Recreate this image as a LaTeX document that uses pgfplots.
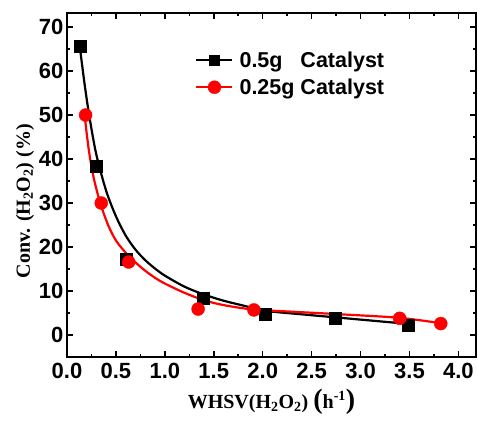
\documentclass[border=0pt]{standalone}
\usepackage{fontspec}
\setmainfont{Liberation Serif}
\setsansfont{Liberation Sans}
\usepackage{pgfplots}
\pgfplotsset{compat=1.18}
\newcommand{\bp}[1]{{\fontsize{28}{28}\selectfont #1}}

\begin{document}
\begin{tikzpicture}
\begin{axis}[
  scale only axis, width=409pt, height=344pt,
  xmin=0, xmax=4.18, ymin=-5, ymax=73.2,
  xtick={0,0.5,1,1.5,2,2.5,3,3.5,4},
  ytick={0,10,20,30,40,50,60,70},
  minor x tick num=1, minor y tick num=1,
  tick align=inside,
  major tick length=6pt, minor tick length=3.5pt,
  every tick/.style={black, line width=1.5pt},
  axis line style={line width=2pt},
  xticklabel style={yshift=-3pt, /pgf/number format/.cd, fixed, fixed zerofill, precision=1},
  /pgf/number format/assume math mode=true,
  tick label style={font=\fontsize{22}{22}\selectfont\sffamily\bfseries},
  xlabel={WHSV(H\textsubscript{2}O\textsubscript{2}) \bp{(}h\textsuperscript{-1}\bp{)}},
  ylabel={Conv. (H\textsubscript{2}O\textsubscript{2}) (\%)},
  xlabel shift=3pt, ylabel shift=-2pt,
  ylabel style={at={(ticklabel cs:0.453)}},
  label style={font=\fontsize{20}{20}\selectfont\bfseries},
  legend style={at={(0.306,0.90)}, anchor=north west, draw=none, fill=none,
    font=\fontsize{21.5}{23}\selectfont\sffamily\bfseries, row sep=6pt},
  legend cell align=left,
]
% fitted curves
\addplot[black, line width=2.2pt, smooth, forget plot] coordinates {
  (0.13,65.7) (0.18,57) (0.23,49.5) (0.3,41) (0.4,32.8) (0.5,27) (0.6,22.6)
  (0.7,19.4) (0.8,17) (0.9,15.1) (1.0,13.5) (1.2,11.0) (1.4,9.2) (1.6,7.8)
  (1.8,6.7) (2.03,5.5) (2.4,4.7) (2.75,4.0) (3.1,3.3) (3.5,2.5)
};
\addplot[black, only marks, mark=square*, mark size=6pt,
  legend image code/.code={\draw[black, line width=2.2pt] (0pt,0pt) -- (36pt,0pt);
    \draw[black, mark=square*, mark size=5pt] plot coordinates {(18pt,0pt)};}] coordinates {
  (0.13,65.7) (0.30,38.4) (0.61,17.3) (1.39,8.3) (2.03,4.8) (2.74,3.8) (3.49,2.3)
};
\addlegendentry{\hspace*{4pt}0.5g\phantom{2} Catalyst}

\addplot[red, line width=2.2pt, smooth, forget plot] coordinates {
  (0.18,50) (0.22,42.5) (0.27,36) (0.34,30) (0.42,25) (0.5,21.5) (0.6,18.7)
  (0.7,16.5) (0.8,14.6) (0.9,13.0) (1.0,11.7) (1.2,9.6) (1.4,7.9) (1.6,6.8)
  (1.9,5.8) (2.3,5.3) (2.8,4.7) (3.4,3.9) (3.83,2.65)
};
\addplot[red, only marks, mark=*, mark size=6.5pt,
  legend image code/.code={\draw[red, line width=2.2pt] (0pt,0pt) -- (36pt,0pt);
    \draw[red, mark=*, mark size=6.5pt] plot coordinates {(18pt,0pt)};}] coordinates {
  (0.19,50.0) (0.35,30.0) (0.63,16.6) (1.34,5.9) (1.91,5.7) (3.40,3.8) (3.82,2.6)
};
\addlegendentry{\hspace*{4pt}0.25g Catalyst}
\end{axis}
\pgfresetboundingbox
\path (current axis.south west) ++(-67pt,-63pt) rectangle ([shift={(2pt,13pt)}]current axis.north east);
\end{tikzpicture}
\end{document}
